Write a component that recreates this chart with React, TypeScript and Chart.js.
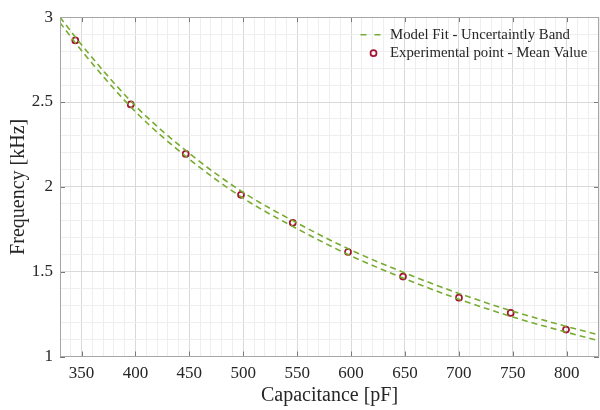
import React, { useEffect, useRef } from 'react';
import { Chart, registerables } from 'chart.js';

Chart.register(...registerables);

// Model fit uncertainty band
const curveC = [330, 350, 400, 450, 500, 550, 600, 650, 700, 750, 800, 830];
const bandUpper = [3.0, 2.837, 2.477, 2.197, 1.967, 1.787, 1.627, 1.492, 1.372, 1.267, 1.177, 1.127];
const bandLower = [2.968, 2.803, 2.443, 2.163, 1.933, 1.753, 1.593, 1.458, 1.338, 1.233, 1.143, 1.093];

// Experimental points
const expC = [344.2, 395.6, 446.6, 497.9, 545.9, 597.2, 648.2, 700.1, 748.1, 799.4];
const expF = [2.863, 2.486, 2.194, 1.953, 1.788, 1.616, 1.471, 1.347, 1.257, 1.159];

// Axis ticks
const xTickLabels = [350, 400, 450, 500, 550, 600, 650, 700, 750, 800];
const yTickLabels = [1, 1.5, 2, 2.5, 3];

const FIT_LABEL = 'Model Fit - Uncertaintly Band';
const EXP_LABEL = 'Experimental point - Mean Value';

const GREEN = '#77AC30';
const RED = '#A2142F';
const FONT = '"Liberation Serif", "Times New Roman", serif';
const TEXT = '#262626';

const isMajorX = (v: number) => xTickLabels.some((t) => Math.abs(t - v) < 1e-6);
const isMajorY = (v: number) => yTickLabels.some((t) => Math.abs(t - v) < 1e-6);

const framePlugin = {
  id: 'frame',
  afterDatasetsDraw(chart: any) {
    const { ctx, chartArea, scales } = chart;
    const { left, right, top, bottom } = chartArea;
    ctx.save();
    // inward ticks
    ctx.strokeStyle = '#7a7a7a';
    ctx.lineWidth = 1;
    const len = 5;
    ctx.beginPath();
    xTickLabels.forEach((v) => {
      const px = Math.round(scales.x.getPixelForValue(v)) + 0.5;
      ctx.moveTo(px, bottom);
      ctx.lineTo(px, bottom - len);
      ctx.moveTo(px, top);
      ctx.lineTo(px, top + len);
    });
    yTickLabels.forEach((v) => {
      const py = Math.round(scales.y.getPixelForValue(v)) + 0.5;
      ctx.moveTo(left, py);
      ctx.lineTo(left + len, py);
      ctx.moveTo(right, py);
      ctx.lineTo(right - len, py);
    });
    ctx.stroke();
    // box
    ctx.strokeStyle = '#a6a6a6';
    ctx.strokeRect(Math.round(left) + 0.5, Math.round(top) + 0.5, Math.round(right - left) - 1, Math.round(bottom - top));
    ctx.restore();
  },
  afterDraw(chart: any) {
    const { ctx, chartArea } = chart;
    const right = chartArea.right;
    const top = chartArea.top;
    const fit = chart.data.datasets[0];
    const exp = chart.data.datasets[2];
    ctx.save();
    // row 1
    const y1 = top + 17.5;
    ctx.strokeStyle = fit.borderColor;
    ctx.lineWidth = fit.borderWidth;
    ctx.setLineDash([6, 8]);
    ctx.beginPath();
    ctx.moveTo(right - 238.5, y1);
    ctx.lineTo(right - 218.5, y1);
    ctx.stroke();
    ctx.setLineDash([]);
    // row 2
    const y2 = top + 36;
    ctx.strokeStyle = exp.pointBorderColor;
    ctx.lineWidth = exp.pointBorderWidth;
    ctx.beginPath();
    ctx.arc(right - 225.5, y2, exp.pointRadius, 0, Math.PI * 2);
    ctx.stroke();
    ctx.fillStyle = TEXT;
    ctx.font = `14.8px ${FONT}`;
    ctx.textBaseline = 'middle';
    ctx.textAlign = 'left';
    ctx.fillText(fit.label, right - 209, y1);
    ctx.fillText(exp.label, right - 209, y2);
    ctx.restore();
  },
};

export default function App() {
  const ref = useRef<HTMLCanvasElement>(null);

  useEffect(() => {
    const canvas = ref.current;
    if (!canvas) return;
    const chart = new Chart(canvas, {
      type: 'line',
      data: {
        datasets: [
          {
            label: FIT_LABEL,
            data: curveC.map((c, i) => ({ x: c, y: bandUpper[i] })),
            borderColor: GREEN,
            borderWidth: 1.6,
            borderDash: [6, 4],
            pointRadius: 0,
            pointHoverRadius: 0,
            fill: false,
            cubicInterpolationMode: 'monotone',
          },
          {
            label: FIT_LABEL,
            data: curveC.map((c, i) => ({ x: c, y: bandLower[i] })),
            borderColor: GREEN,
            borderWidth: 1.6,
            borderDash: [6, 4],
            pointRadius: 0,
            pointHoverRadius: 0,
            fill: false,
            cubicInterpolationMode: 'monotone',
          },
          {
            label: EXP_LABEL,
            data: expC.map((c, i) => ({ x: c, y: expF[i] })),
            showLine: false,
            pointRadius: 3,
            pointHoverRadius: 3,
            pointBorderWidth: 1.7,
            pointBorderColor: RED,
            pointBackgroundColor: 'rgba(0,0,0,0)',
            borderColor: RED,
          },
        ],
      } as any,
      options: {
        animation: false,
        responsive: false,
        devicePixelRatio: 1,
        layout: { autoPadding: false, padding: { top: 15, right: 1, left: 0, bottom: 0 } },
        plugins: {
          legend: { display: false },
          tooltip: { enabled: false },
        },
        scales: {
          x: {
            type: 'linear',
            min: 330,
            max: 830,
            afterFit: (s: any) => {
              s.height = 53.5;
              s.paddingLeft = 0;
              s.paddingRight = 0;
            },
            border: { display: false },
            grid: {
              drawTicks: false,
              color: (c: any) => (c.tick && isMajorX(c.tick.value) ? '#d9d9d9' : '#eeeeee'),
              lineWidth: 1,
            },
            ticks: {
              stepSize: 10,
              autoSkip: false,
              maxRotation: 0,
              minRotation: 0,
              padding: 7,
              color: TEXT,
              font: { family: FONT, size: 17 },
              callback: (v: any) => (isMajorX(Number(v)) ? String(Math.round(Number(v))) : ''),
            },
            title: {
              display: true,
              text: 'Capacitance [pF]',
              color: TEXT,
              font: { family: FONT, size: 20 },
              padding: { top: 0, bottom: 2.5 },
            },
          },
          y: {
            type: 'linear',
            min: 1,
            max: 3,
            afterFit: (s: any) => {
              s.width = 60;
            },
            border: { display: false },
            grid: {
              drawTicks: false,
              color: (c: any) => (c.tick && isMajorY(c.tick.value) ? '#d9d9d9' : '#eeeeee'),
              lineWidth: 1,
            },
            ticks: {
              stepSize: 0.1,
              autoSkip: false,
              padding: 7,
              color: TEXT,
              font: { family: FONT, size: 17 },
              callback: (v: any) => {
                const n = Number(v);
                const t = yTickLabels.find((k) => Math.abs(k - n) < 1e-6);
                return t === undefined ? '' : String(t);
              },
            },
            title: {
              display: true,
              text: 'Frequency [kHz]',
              color: TEXT,
              font: { family: FONT, size: 20 },
              padding: { top: 7.2, bottom: 0 },
            },
          },
        },
      } as any,
      plugins: [framePlugin],
    });
    return () => chart.destroy();
  }, []);

  return (
    <div style={{ position: 'fixed', left: 0, top: 0, width: 600, height: 410, background: '#fff' }}>
      <canvas ref={ref} width={600} height={410} style={{ display: 'block', width: 600, height: 410 }} />
    </div>
  );
}
